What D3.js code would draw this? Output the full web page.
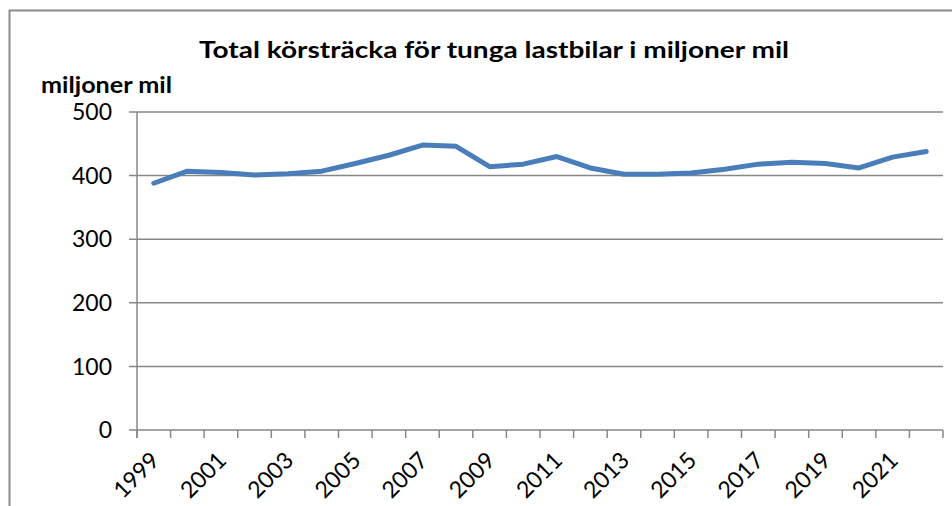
<!DOCTYPE html>
<html><head><meta charset="utf-8">
<script src="https://cdn.jsdelivr.net/npm/d3@7"></script>
<style>body{margin:0;background:#fff}svg{display:block}</style>
</head><body><svg id="c" width="952" height="506"></svg>
<script>
const years = ["1999","2000","2001","2002","2003","2004","2005","2006","2007","2008","2009","2010","2011","2012","2013","2014","2015","2016","2017","2018","2019","2020","2021","2022"];
const values = [388,407,405,401,403,407,419,432,448,446,414,418,430,412,402,402,404,410,418,421,419,412,429,438];
const yTicks = [0,100,200,300,400,500];
const title = "Total körsträcka för tunga lastbilar i miljoner mil";
const yTitle = "miljoner mil";

const svg = d3.select("#c");
const font = "Lato, 'Open Sans', sans-serif";
const L = 137, R = 943, T = 112, B = 430;
svg.append("rect").attr("x",9.5).attr("y",10.5).attr("width",960).attr("height",520)
  .attr("fill","none").attr("stroke","#8c8c8c").attr("stroke-width",2);

const x = d3.scaleBand().domain(years).range([L,R]);
const y = d3.scaleLinear().domain([0,500]).range([B,T]);

// gridlines
svg.append("g").selectAll("line").data(yTicks).join("line")
  .attr("x1",L-8).attr("x2",R).attr("y1",d=>y(d)).attr("y2",d=>y(d))
  .attr("stroke","#878787").attr("stroke-width",1.5);
// y axis line
svg.append("line").attr("x1",L).attr("x2",L).attr("y1",T).attr("y2",B+8)
  .attr("stroke","#878787").attr("stroke-width",1.5);
// x tick marks at band boundaries
const bounds = years.map(d=>x(d)).concat([R]);
svg.append("g").selectAll("line").data(bounds).join("line")
  .attr("x1",d=>d).attr("x2",d=>d).attr("y1",B).attr("y2",B+8)
  .attr("stroke","#878787").attr("stroke-width",1.5);
// y labels
svg.append("g").selectAll("text").data(yTicks).join("text")
  .attr("x",L-25).attr("y",d=>y(d)).attr("dy","0.36em").attr("text-anchor","end")
  .attr("font-family",font).attr("font-size",23).attr("fill","#000").text(d=>d);
// x labels
svg.append("g").selectAll("text").data(years.filter((d,i)=>i%2===0)).join("text")
  .attr("transform",d=>`translate(${x(d)+x.bandwidth()/2+1},${B+26}) rotate(-45)`)
  .attr("text-anchor","end").attr("dy","0.36em")
  .attr("font-family",font).attr("font-size",23).attr("fill","#000").text(d=>d);
// line
const line = d3.line().x((d,i)=>x(years[i])+x.bandwidth()/2).y(d=>y(d));
svg.append("path").datum(values).attr("d",line).attr("fill","none")
  .attr("stroke","#4a7ebb").attr("stroke-width",5).attr("stroke-linecap","round").attr("stroke-linejoin","round");
// titles
svg.append("text").attr("x",494).attr("y",58).attr("text-anchor","middle")
  .attr("font-family",font).attr("font-weight","bold").attr("font-size",22)
  .attr("textLength",590).attr("lengthAdjust","spacingAndGlyphs").text(title);
svg.append("text").attr("x",41).attr("y",93)
  .attr("font-family",font).attr("font-weight","bold").attr("font-size",22)
  .attr("textLength",131).attr("lengthAdjust","spacingAndGlyphs").text(yTitle);
</script></body></html>
